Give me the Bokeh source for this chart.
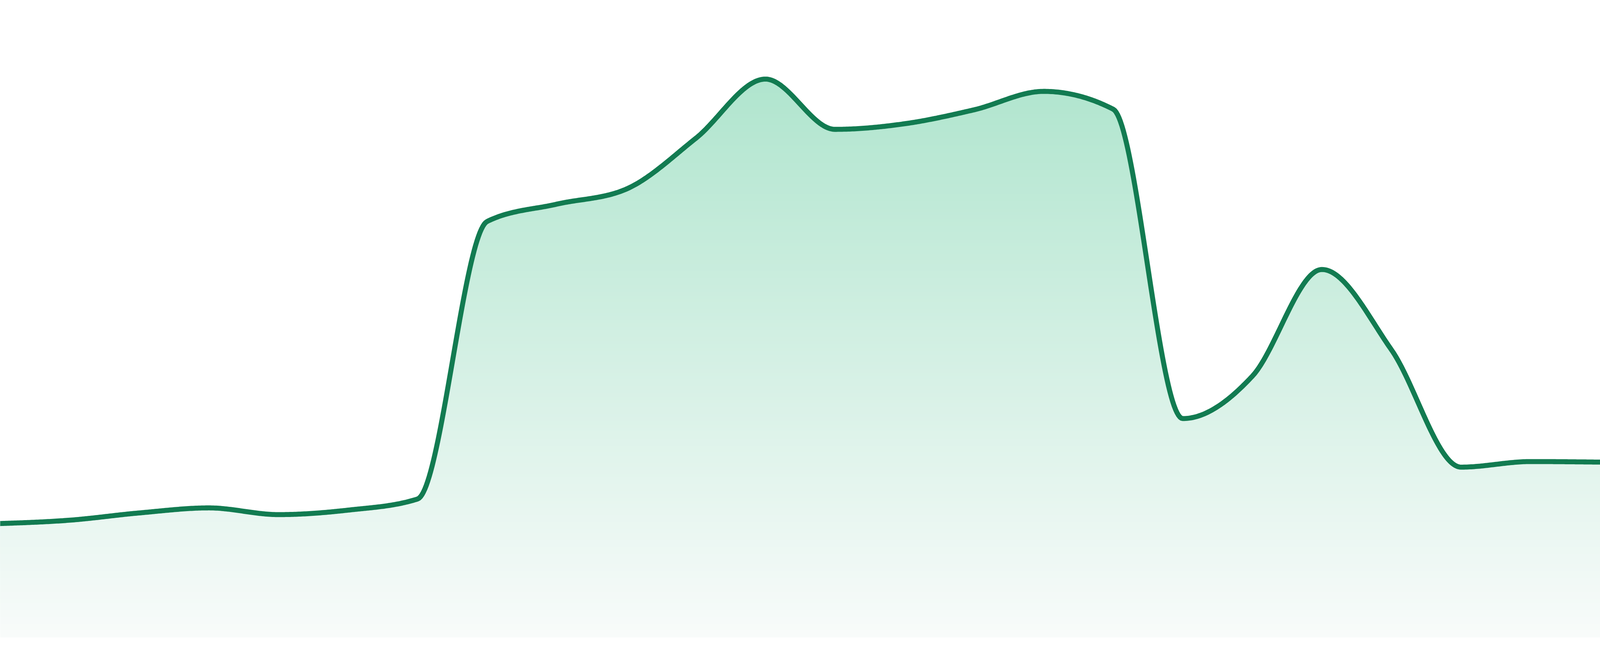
import numpy as np
from bokeh.plotting import figure
from bokeh.models import Range1d, CustomJS
from bokeh.document import Document
from bokeh.events import DocumentReady
from bokeh.embed import file_html
from bokeh.resources import INLINE

# ---- data ----
periods = list(range(24))
values = [20.4, 21.0, 22.3, 23.2, 22.0, 22.8, 24.8, 74.5, 77.6, 80.3, 89.4, 100.0,
          91.0, 92.0, 94.5, 97.8, 94.6, 39.2, 46.8, 65.9, 51.5, 30.5, 31.5, 31.4]

LINE_COLOR = "#127b51"
TOP_COLOR = (176, 229, 206)
BOTTOM_COLOR = (248, 251, 250)

x = np.array(periods, dtype=float)
y = np.array(values, dtype=float)


def monotone_tangents(x, y):
    n = len(x)
    h = np.diff(x)
    s = np.diff(y) / h
    t = np.zeros(n)
    for i in range(1, n - 1):
        s0, s1 = s[i - 1], s[i]
        p = (s0 * h[i] + s1 * h[i - 1]) / (h[i - 1] + h[i])
        t[i] = (np.sign(s0) + np.sign(s1)) * min(abs(s0), abs(s1), 0.5 * abs(p))
    t[0] = (3 * s[0] - t[1]) / 2
    t[-1] = (3 * s[-1] - t[-2]) / 2
    return t


def sample_curve(x, y, per=48):
    t = monotone_tangents(x, y)
    xs, ys = [], []
    u = np.linspace(0, 1, per, endpoint=False)
    for i in range(len(x) - 1):
        dx = x[i + 1] - x[i]
        p0 = np.array([x[i], y[i]])
        p1 = np.array([x[i] + dx / 3, y[i] + dx * t[i] / 3])
        p2 = np.array([x[i + 1] - dx / 3, y[i + 1] - dx * t[i + 1] / 3])
        p3 = np.array([x[i + 1], y[i + 1]])
        b = ((1 - u) ** 3)[:, None] * p0 + (3 * (1 - u) ** 2 * u)[:, None] * p1 \
            + (3 * (1 - u) * u ** 2)[:, None] * p2 + (u ** 3)[:, None] * p3
        xs.append(b[:, 0])
        ys.append(b[:, 1])
    xs.append([x[-1]])
    ys.append([y[-1]])
    return np.concatenate(xs), np.concatenate(ys)


cx, cy = sample_curve(x, y)

p = figure(width=4784, height=1664, output_backend="svg", toolbar_location=None,
           x_range=Range1d(0, 23), y_range=Range1d(-3.36, 114.13),
           min_border=0, background_fill_color="white", border_fill_color="white")
p.outline_line_color = None
p.xaxis.visible = False
p.yaxis.visible = False
p.xgrid.visible = False
p.ygrid.visible = False

top = float(np.max(cy))
nb = 160
for k in range(nb):
    lo = top * k / nb
    f = k / (nb - 1)
    col = tuple(int(round(BOTTOM_COLOR[j] + (TOP_COLOR[j] - BOTTOM_COLOR[j]) * f)) for j in range(3))
    y2 = np.maximum(cy, lo)
    p.varea(x=cx, y1=np.full_like(cy, lo), y2=y2, fill_color="#%02x%02x%02x" % col)

line_r = p.line(cx, cy, line_color=LINE_COLOR, line_width=15, line_join="round", line_cap="round")

# fit the figure to the actual viewport of the page (edge to edge, like the reference)
doc = Document()
doc.add_root(p)
doc.js_on_event(DocumentReady, CustomJS(args=dict(p=p, g=line_r.glyph), code="""
    document.documentElement.style.margin = "0";
    document.body.style.margin = "0";
    document.body.style.overflow = "hidden";
    document.documentElement.style.overflow = "hidden";
    const w = Math.floor(window.innerWidth);
    const h = Math.floor(window.innerHeight);
    if (w > 100 && h > 100) {
        p.width = w;
        p.height = h;
        g.line_width = 15 * w / 4800;
    }
"""))

open("out.html", "w").write(file_html(p, INLINE))
